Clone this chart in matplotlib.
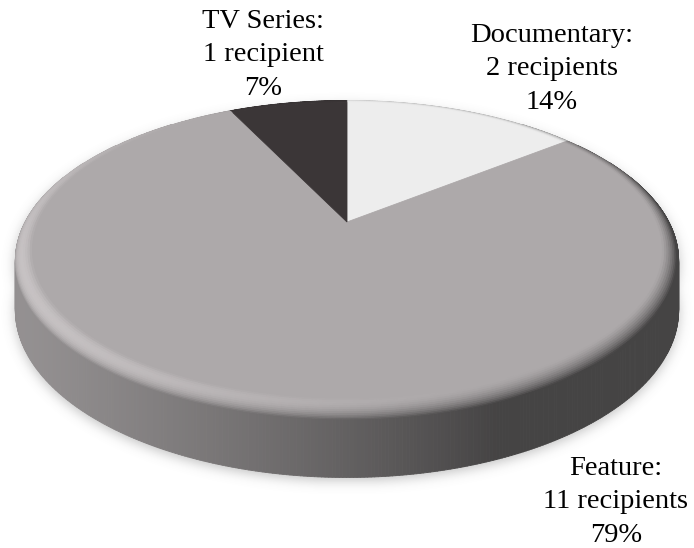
import numpy as np
import matplotlib
matplotlib.use("Agg")
import matplotlib.pyplot as plt
from matplotlib.collections import PolyCollection
from matplotlib.patches import Polygon
from matplotlib.path import Path
from matplotlib.colors import to_rgb

plt.rcParams["font.family"] = "serif"
plt.rcParams["font.serif"] = ["Liberation Serif", "Times New Roman", "DejaVu Serif"]

# ---- data ----
categories = ["Documentary", "Feature", "TV Series"]
recipients = [2, 11, 1]
slice_colors = ["#EDEDED", "#ADA9AA", "#3B3637"]

# label anchors: centre x and first baseline y (canvas pixels)
label_x = [552, 616, 263]
label_y = [42, 475, 28]
LINE_STEP = 33.3

W, H = 694, 548
fig = plt.figure(figsize=(W / 100, H / 100), dpi=100)
ax = fig.add_axes([0, 0, 1, 1])
ax.set_xlim(0, W)
ax.set_ylim(H, 0)
ax.axis("off")

# ---- simple perspective camera for the pie disc ----
CX, CY = 347.0, 222.0      # projected centre of the top face
RX, RY = 325.0, 150.0      # horizontal / depth scale
PERSP = 0.2                # perspective strength
THICK = 54.4               # thickness scale
BEVEL_R = 0.05             # radial width of the rounded rim
BEVEL_H = 0.14             # share of thickness taken by the rounded rim
VIEW = (0.0, 0.46, -0.89)  # direction towards the viewer (x, up, depth)


def project(X, Z, Hh):
    w = 1.0 + PERSP * Z
    return CX + RX * X / w, CY - (RY * Z + THICK * Hh) / w


def shade(nx, nu, nz):
    # ambient + diffuse light from the upper left front
    return 0.40 + np.maximum(0.0, -0.42 * nx + 0.60 * nu - 0.17 * nz)


def rim_point(t, phi):
    r = 1.0 - BEVEL_R + BEVEL_R * np.sin(phi)
    hh = -BEVEL_H * (1.0 - np.cos(phi))
    return project(r * np.cos(t), r * np.sin(t), hh)


total = sum(recipients)
fracs = np.array(recipients, dtype=float) / total
bounds = 90.0 - 360.0 * np.concatenate([[0.0], np.cumsum(fracs)])

side_polys, side_cols = [], []
phis = np.linspace(0.0, np.pi / 2, 13)
bevel_layers = [([], []) for _ in range(len(phis) - 1)]
top_patches = []

for i, (cat, col) in enumerate(zip(categories, slice_colors)):
    base = np.array(to_rgb(col))
    t0, t1 = np.radians(bounds[i]), np.radians(bounds[i + 1])
    n = max(4, int(abs(bounds[i] - bounds[i + 1]) * 2))
    ts = np.linspace(t0, t1, n + 1)

    # flat top face of the slice
    r_in = 1.0 - BEVEL_R
    xs, ys = project(r_in * np.cos(ts), r_in * np.sin(ts), 0.0)
    pts = np.column_stack([np.r_[CX, xs], np.r_[CY, ys]])
    top_patches.append(Polygon(pts, closed=True, facecolor=col,
                               edgecolor=col, linewidth=0.6, zorder=5))

    for j in range(n):
        ta, tb = ts[j], ts[j + 1]
        tm = 0.5 * (ta + tb)
        # rounded rim
        for k in range(len(phis) - 1):
            pa, pb = phis[k], phis[k + 1]
            pm = 0.5 * (pa + pb)
            nrm = (np.cos(tm) * np.sin(pm), np.cos(pm), np.sin(tm) * np.sin(pm))
            if k > 0 and nrm[0] * VIEW[0] + nrm[1] * VIEW[1] + nrm[2] * VIEW[2] < 0:
                continue
            quad = [rim_point(ta, pa), rim_point(tb, pa),
                    rim_point(tb, pb), rim_point(ta, pb)]
            c = np.clip(base * shade(*nrm), 0, 1)
            bevel_layers[k][0].append(quad)
            bevel_layers[k][1].append(c)
        # vertical side wall, only where it faces the viewer
        if np.sin(tm) < -PERSP + 0.01:
            quad = [project(np.cos(ta), np.sin(ta), -BEVEL_H),
                    project(np.cos(tb), np.sin(tb), -BEVEL_H),
                    project(np.cos(tb), np.sin(tb), -1.0),
                    project(np.cos(ta), np.sin(ta), -1.0)]
            c = np.clip(base * shade(np.cos(tm), 0.0, np.sin(tm)), 0, 1)
            side_polys.append(quad)
            side_cols.append(c)

# ---- soft drop shadow under the disc ----
tt = np.linspace(0, 2 * np.pi, 721)
ox, oy = project(np.cos(tt), np.sin(tt), -1.0)
ux, uy = project(np.cos(tt), np.sin(tt), -BEVEL_H)
gx, gy = np.meshgrid(np.arange(W) + 0.5, np.arange(H) + 0.5)
grid = np.column_stack([gx.ravel(), gy.ravel()])
mask = (Path(np.column_stack([ox, oy + 3])).contains_points(grid) |
        Path(np.column_stack([ux, uy + 3])).contains_points(grid))
mask = mask.reshape(H, W).astype(float)
sig = 6.0
kx = np.arange(-20, 21)
kern = np.exp(-0.5 * (kx / sig) ** 2)
kern /= kern.sum()
blur = np.apply_along_axis(lambda m: np.convolve(m, kern, mode="same"), 1, mask)
blur = np.apply_along_axis(lambda m: np.convolve(m, kern, mode="same"), 0, blur)
shadow = np.zeros((H, W, 4))
shadow[..., :3] = 0.45
shadow[..., 3] = 0.45 * blur
ax.imshow(shadow, extent=(0, W, H, 0), origin="upper", zorder=1,
          interpolation="bilinear")

ax.add_collection(PolyCollection(side_polys, facecolors=side_cols,
                                 edgecolors=side_cols, linewidths=0.6, zorder=2))
for k in range(len(phis) - 2, -1, -1):
    polys, cols = bevel_layers[k]
    ax.add_collection(PolyCollection(polys, facecolors=cols, edgecolors=cols,
                                     linewidths=0.6, zorder=3))
for p in top_patches:
    ax.add_patch(p)

# ---- data labels ----
for cat, n, lx, ly in zip(categories, recipients, label_x, label_y):
    pct = int(round(100.0 * n / total))
    lines = [f"{cat}:", f"{n} recipient" + ("s" if n != 1 else ""), f"{pct}%"]
    for j, line in enumerate(lines):
        ax.text(lx, ly + j * LINE_STEP, line, ha="center", va="baseline",
                fontsize=20.5, color="black", zorder=10)

fig.savefig("out.png", dpi=100)
